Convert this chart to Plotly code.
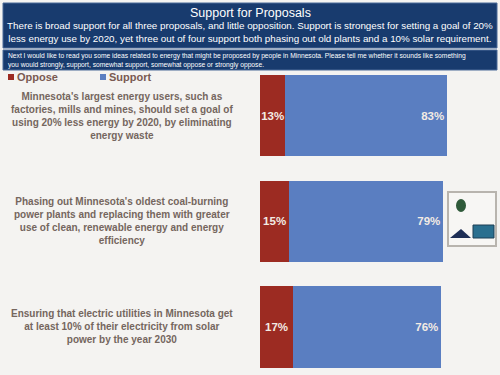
import plotly.graph_objects as go

# ---- data ----
categories = [
    "Minnesota's largest energy users, such as<br>factories, mills and mines, should set a goal of<br>using 20% less energy by 2020, by eliminating<br>energy waste",
    "Phasing out Minnesota's oldest coal-burning<br>power plants and replacing them with greater<br>use of clean, renewable energy and energy<br>efficiency",
    "Ensuring that electric utilities in Minnesota get<br>at least 10% of their electricity from solar<br>power by the year 2030",
]
cat_ids = ["P1", "P2", "P3"]
oppose = [13, 15, 17]
support = [83, 79, 76]
oppose_labels = [f"{v}%" for v in oppose]
support_labels = [f"{v}%" for v in support]
series_names = ["Oppose", "Support"]

title = "Support for Proposals"
subtitle = ("There is broad support for all three proposals, and little opposition. Support is strongest for setting a goal of 20%<br>"
            "less energy use by 2020, yet three out of four support both phasing out old plants and a 10% solar requirement.")
question = ("Next I would like to read you some ideas related to energy that might be proposed by people in Minnesota. Please tell me whether it sounds like something<br>"
            "you would strongly, support, somewhat support, somewhat oppose or strongly oppose.")

W, H = 500, 375
ML, MR, MT, MB = 260, 45, 63, 0
PW, PH = W - ML - MR, H - MT - MB
BG = "#f4f3f1"


def px(x):
    return (x - ML) / PW


def py(y):
    return (H - MB - y) / PH


RED = "#9c2b22"
BLUE = "#5a7ec1"
LBL = "#f3ebe4"
COLORS = [RED, BLUE]

fig = go.Figure()
for name, vals, labels, color, anchor in [
    (series_names[0], oppose, oppose_labels, RED, "middle"),
    (series_names[1], support, support_labels, BLUE, "end"),
]:
    fig.add_trace(go.Bar(
        name=name, y=cat_ids, x=vals, orientation="h",
        marker=dict(color=color, line=dict(width=0)),
        text=labels, textposition="inside", insidetextanchor=anchor,
        constraintext="none", textangle=0,
        textfont=dict(family="Liberation Sans", size=11.5, color=LBL, weight="bold"),
        hoverinfo="skip", showlegend=False,
    ))

shapes = [
    # header box
    dict(type="rect", xref="paper", yref="paper", x0=px(3), x1=px(497), y0=py(48), y1=py(3),
         fillcolor="#183b6e", line=dict(color="#4a6a98", width=1), layer="below"),
    # question box
    dict(type="rect", xref="paper", yref="paper", x0=px(3), x1=px(497), y0=py(70), y1=py(50),
         fillcolor="#183b6e", line=dict(color="#4a6a98", width=1), layer="below"),
    # logo frame
    dict(type="rect", xref="paper", yref="paper", x0=px(448), x1=px(496), y0=py(246), y1=py(192),
         fillcolor="#f7f6f4", line=dict(color="#b8b4ae", width=2), layer="above"),
    dict(type="circle", xref="paper", yref="paper", x0=px(456), x1=px(466), y0=py(212), y1=py(199),
         fillcolor="#2f5a3a", line=dict(width=0)),
    dict(type="path", xref="paper", yref="paper",
         path=f"M {px(450)},{py(238)} L {px(461)},{py(229)} L {px(471)},{py(238)} Z",
         fillcolor="#1d2e55", line=dict(width=0)),
    dict(type="rect", xref="paper", yref="paper", x0=px(473), x1=px(494), y0=py(238), y1=py(225),
         fillcolor="#2a6f8f", line=dict(color="#1d3e55", width=1)),
]

# legend squares
for name, color, lx in zip(series_names, COLORS, [8, 100]):
    shapes.append(dict(type="rect", xref="paper", yref="paper",
                       x0=px(lx), x1=px(lx + 6), y0=py(80), y1=py(74),
                       fillcolor=color, line=dict(width=0)))

annotations = [
    dict(text=title, xref="paper", yref="paper", x=px(250), y=py(13.5), showarrow=False,
         font=dict(family="Liberation Sans", size=12.5, color="white"), xanchor="center", yanchor="middle"),
    dict(text=subtitle, xref="paper", yref="paper", x=px(250), y=py(32.5), showarrow=False,
         font=dict(family="Liberation Sans", size=9.8, color="white"),
         xanchor="center", yanchor="middle", align="center"),
    dict(text=question, xref="paper", yref="paper", x=px(6), y=py(60), showarrow=False,
         font=dict(family="Liberation Sans", size=6.7, color="white"),
         xanchor="left", yanchor="middle", align="left"),
]
for name, lx in zip(series_names, [15, 107]):
    annotations.append(dict(
        text=name, xref="paper", yref="paper", x=px(lx), y=py(77), showarrow=False,
        font=dict(family="Liberation Sans", size=11, color="#7a5a52", weight="bold"),
        xanchor="left", yanchor="middle",
    ))
for cid, cat in zip(cat_ids, categories):
    annotations.append(dict(
        text=cat, xref="paper", yref="y", x=px(122), y=cid, showarrow=False,
        font=dict(family="Liberation Sans", size=10, color="#75665e", weight="bold"),
        xanchor="center", yanchor="middle", align="center",
    ))

fig.update_layout(
    width=W, height=H, margin=dict(l=ML, r=MR, t=MT, b=MB, autoexpand=False),
    barmode="stack", bargap=0.23,
    paper_bgcolor=BG, plot_bgcolor=BG,
    xaxis=dict(range=[0, 100], visible=False, fixedrange=True),
    yaxis=dict(categoryorder="array", categoryarray=cat_ids, range=[2.455, -0.5],
               visible=False, fixedrange=True),
    showlegend=False,
    shapes=shapes, annotations=annotations,
)

fig.write_html(
    "out.html",
    config={"displayModeBar": False},
    post_script=f"document.body.style.margin='0';document.body.style.overflow='hidden';document.body.style.background='{BG}';",
)
